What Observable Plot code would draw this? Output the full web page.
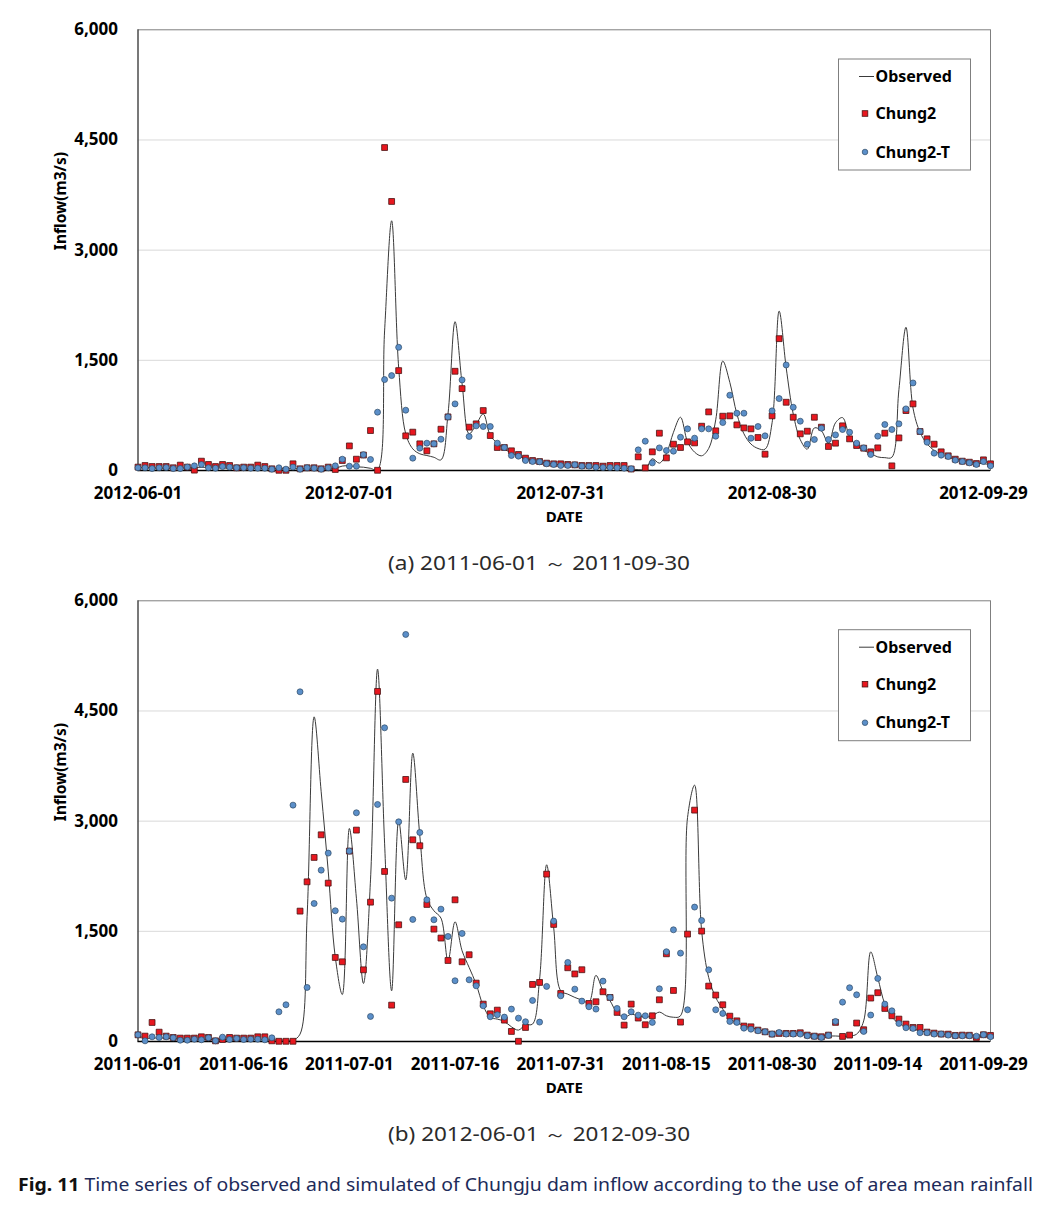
<!DOCTYPE html>
<html><head><meta charset="utf-8">
<script src="https://cdn.jsdelivr.net/npm/d3@7"></script>
<script src="https://cdn.jsdelivr.net/npm/@observablehq/plot@0.6"></script>
<style>
html,body{margin:0;padding:0;background:#fff}
body{width:1048px;height:1207px;position:relative;overflow:hidden;font-family:"Noto Sans",sans-serif}
.panel{position:absolute;left:0}
#ov{position:absolute;left:0;top:0}
</style></head><body>
<div id="a" class="panel" style="top:0px"></div>
<div id="b" class="panel" style="top:570.7px"></div>
<script>
// ---------- DATA ----------
const seriesNames = ["Observed", "Chung2", "Chung2-T"];
const yTicks = [0, 1500, 3000, 4500, 6000];

// Panel (a): 2012-06-01 .. 2012-09-30, daily
const startA = "2012-06-01";
const ticksA = ["2012-06-01", "2012-07-01", "2012-07-31", "2012-08-30", "2012-09-29"];
const observedA = [
  40,38,35,33,32,30,30,35,40,45,
  40,35,33,32,30,28,27,26,25,25,
  24,23,25,24,23,22,22,22,30,60,
  65,50,45,30,10,1900,3400,1400,500,295,
  227,204,180,145,770,2026,1180,500,625,770,
  476,372,295,236,195,160,136,118,100,86,
  77,68,60,54,50,45,40,35,30,25,
  20,12,15,160,100,230,520,725,390,250,
  200,300,690,1490,1200,770,500,360,300,290,
  650,2170,1400,770,420,290,580,540,370,650,
  720,460,340,275,230,185,175,180,1100,1950,
  850,520,363,272,218,182,154,136,113,100,
  91,82];
const chung2A = [
  46,68,54,54,54,37,73,46,5,127,
  82,54,82,68,37,46,46,73,54,23,
  3,3,91,23,37,37,23,46,14,136,
  335,154,210,544,3,4397,3663,1360,472,522,
  363,268,363,562,730,1351,1115,590,635,816,
  476,313,313,268,218,168,136,122,100,91,
  91,82,77,68,68,68,59,68,68,68,
  20,186,36,254,508,172,358,313,390,376,
  603,798,540,739,744,621,580,567,449,222,
  744,1795,929,725,499,535,725,590,327,372,
  608,431,340,304,254,308,508,63,444,816,
  907,531,431,358,254,200,154,127,113,95,
  145,91];
const chung2TA = [
  37,37,27,37,41,27,27,46,63,82,
  37,32,54,46,37,37,32,32,32,18,
  37,18,46,18,37,32,18,37,63,154,
  59,59,215,150,794,1238,1292,1677,821,168,
  304,372,363,426,730,907,1233,463,608,599,
  599,372,313,204,195,136,122,118,91,82,
  68,68,77,59,59,45,41,41,37,32,
  23,281,399,104,308,272,263,453,567,440,
  567,567,467,653,1025,780,780,440,599,472,
  812,979,1437,861,671,358,422,576,422,485,
  558,521,372,308,218,467,626,558,635,839,
  1192,531,385,236,209,190,141,122,104,82,
  122,63];

// Panel (b): 2011-06-01 .. 2011-09-30, daily
const startB = "2011-06-01";
const ticksB = ["2011-06-01", "2011-06-16", "2011-07-01", "2011-07-16", "2011-07-31", "2011-08-15", "2011-08-30", "2011-09-14", "2011-09-29"];
const observedB = [
  80,45,45,50,45,40,35,30,30,30,
  28,25,25,25,25,25,25,22,20,20,
  20,18,20,100,1700,4420,3400,2320,1150,640,
  2900,1950,790,2200,5070,2700,690,3005,2200,3926,
  2800,1950,1780,1680,1100,1630,1235,1008,781,486,
  327,305,273,200,155,228,237,850,2406,1550,
  690,645,600,563,532,900,690,555,390,330,
  370,350,330,350,400,350,330,350,3050,3490,
  1508,872,600,441,305,260,210,190,160,140,
  120,115,110,110,105,95,90,80,75,75,
  70,75,100,280,1220,870,510,330,250,200,
  170,145,125,110,100,95,90,85,80,78,
  75,70];
const chung2B = [
  91,73,259,127,73,55,46,46,46,64,
  55,9,27,55,46,46,46,64,64,9,
  3,3,3,1775,2174,2506,2814,2156,1144,1085,
  2592,2878,976,1897,4766,2315,495,1589,3568,2746,
  2665,1866,1530,1408,1103,1929,1085,1181,795,509,
  377,427,291,137,3,191,777,804,2279,1594,
  654,1004,920,977,518,541,677,600,396,223,
  509,319,228,350,568,1194,695,264,1462,3150,
  1503,754,632,500,345,281,210,200,155,132,
  101,110,110,110,119,87,73,65,87,260,
  69,87,251,160,591,664,450,350,305,237,
  191,191,128,114,101,100,83,87,85,55,
  92,83];
const chung2TB = [
  91,9,64,55,64,50,18,18,32,23,
  50,9,59,27,41,27,32,32,23,50,
  404,500,3218,4761,736,1879,2333,2565,1780,1666,
  2592,3114,1289,341,3227,4271,1952,2991,5542,1662,
  2846,1929,1657,1802,1430,827,1471,840,758,486,
  337,364,332,441,318,269,559,264,750,1639,
  622,1076,713,550,473,441,822,600,450,337,
  405,359,350,260,718,1222,1521,1203,432,1830,
  1648,976,432,382,273,260,182,168,146,132,
  101,123,101,101,101,78,69,55,83,273,
  536,732,636,137,360,859,509,418,246,187,
  178,119,119,101,101,87,78,78,78,73,
  92,65];

// ---------- STYLE ----------
const RED = "#e8171f", RED_STROKE = "#4a1414";
const BLUE = "#5b8fc9", BLUE_STROKE = "#2f4a66";
const LINE = "#3a3a3a";
const FONT = '"Noto Sans", "Open Sans", sans-serif';

function panel(start, obs, c2, c2t, ticks) {
  const t0 = new Date(start + "T00:00:00Z");
  const rows = obs.map((v, i) => ({date: d3.utcDay.offset(t0, i), obs: v, c2: c2[i], c2t: c2t[i]}));
  const tickDates = ticks.map(s => new Date(s + "T00:00:00Z"));
  return Plot.plot({
    width: 1048, height: 530,
    marginLeft: 137.5, marginRight: 58, marginTop: 29.3, marginBottom: 60,
    style: {fontFamily: FONT, fontSize: "17px", fontWeight: "bold", color: "#000", background: "transparent"},
    x: {type: "utc", domain: [rows[0].date, rows[rows.length - 1].date], ticks: tickDates,
        tickFormat: d3.utcFormat("%Y-%m-%d"), tickSize: 0, tickPadding: 16, label: null},
    y: {domain: [0, 6000], ticks: yTicks, tickFormat: d3.format(","), tickSize: 0, tickPadding: 20, label: null},
    marks: [
      Plot.gridY(yTicks.slice(1, 4), {stroke: "#d9d9d9", strokeOpacity: 1}),
      Plot.frame({stroke: "#7f7f7f"}),
      Plot.ruleX([rows[0].date], {stroke: "#333"}),
      Plot.ruleY([0], {stroke: "#000", strokeWidth: 1.6}),
      Plot.line(rows, {x: "date", y: "obs", curve: "catmull-rom", stroke: LINE, strokeWidth: 1}),
      Plot.dot(rows, {x: "date", y: "c2", symbol: "square", r: 3.3, fill: RED, stroke: RED_STROKE, strokeWidth: 0.8}),
      Plot.dot(rows, {x: "date", y: "c2t", r: 3, fill: BLUE, stroke: BLUE_STROKE, strokeWidth: 0.7}),
      Plot.text(["DATE"], {frameAnchor: "bottom", dy: 51, text: d => d, fontSize: 15, fontWeight: "bold", fill: "#000"}),
      Plot.text(["Inflow(m3/s)"], {frameAnchor: "left", dx: -76.5, rotate: -90, text: d => d, fontSize: 15.5, fontWeight: "bold", fill: "#000"})
    ]
  });
}

document.getElementById("a").appendChild(panel(startA, observedA, chung2A, chung2TA, ticksA));
document.getElementById("b").appendChild(panel(startB, observedB, chung2B, chung2TB, ticksB));

// ---------- OVERLAY: legends and captions ----------
const NS = "http://www.w3.org/2000/svg";
const ov = document.createElementNS(NS, "svg");
ov.setAttribute("id", "ov");
ov.setAttribute("width", 1048); ov.setAttribute("height", 1207);
document.body.appendChild(ov);
function el(tag, attrs, text) {
  const e = document.createElementNS(NS, tag);
  for (const k in attrs) e.setAttribute(k, attrs[k]);
  if (text != null) e.textContent = text;
  ov.appendChild(e);
  return e;
}
function legend(oy) {
  el("rect", {x: 838.5, y: 59 + oy, width: 132, height: 111, fill: "#fff", stroke: "#7f7f7f", "stroke-width": 1});
  const ys = [76.5, 113.5, 152];
  el("line", {x1: 859, x2: 874, y1: ys[0] + oy, y2: ys[0] + oy, stroke: LINE, "stroke-width": 1});
  el("rect", {x: 862.2, y: ys[1] + oy - 2.8, width: 5.6, height: 5.6, fill: RED, stroke: RED_STROKE, "stroke-width": 0.8});
  el("circle", {cx: 865, cy: ys[2] + oy, r: 2.8, fill: BLUE, stroke: BLUE_STROKE, "stroke-width": 0.7});
  seriesNames.forEach((s, i) => el("text", {x: 875.5, y: ys[i] + oy, dy: "0.35em", "font-family": FONT, "font-size": 16, "font-weight": "bold", fill: "#000"}, s));
}
legend(0);
legend(570.7);

function caption(text, cx, cy, len) {
  el("text", {x: cx, y: cy, dy: "0.35em", "text-anchor": "middle", "font-family": FONT, "font-size": 19, fill: "#2b2b2b",
              textLength: len, lengthAdjust: "spacingAndGlyphs"}, text);
}
caption("(a) 2011-06-01 ～ 2011-09-30", 539, 563, 302);
caption("(b) 2012-06-01 ～ 2012-09-30", 539, 1134, 302);

const fig = el("text", {x: 18, y: 1185, dy: "0.35em", "font-family": FONT, "font-size": 18, textLength: 1015, lengthAdjust: "spacingAndGlyphs"});
const t1 = document.createElementNS(NS, "tspan"); t1.setAttribute("font-weight", "bold"); t1.setAttribute("fill", "#111"); t1.textContent = "Fig. 11";
const t2 = document.createElementNS(NS, "tspan"); t2.setAttribute("fill", "#1d2b5a"); t2.textContent = " Time series of observed and simulated of Chungju dam inflow according to the use of area mean rainfall";
fig.appendChild(t1); fig.appendChild(t2);
</script>
</body></html>
